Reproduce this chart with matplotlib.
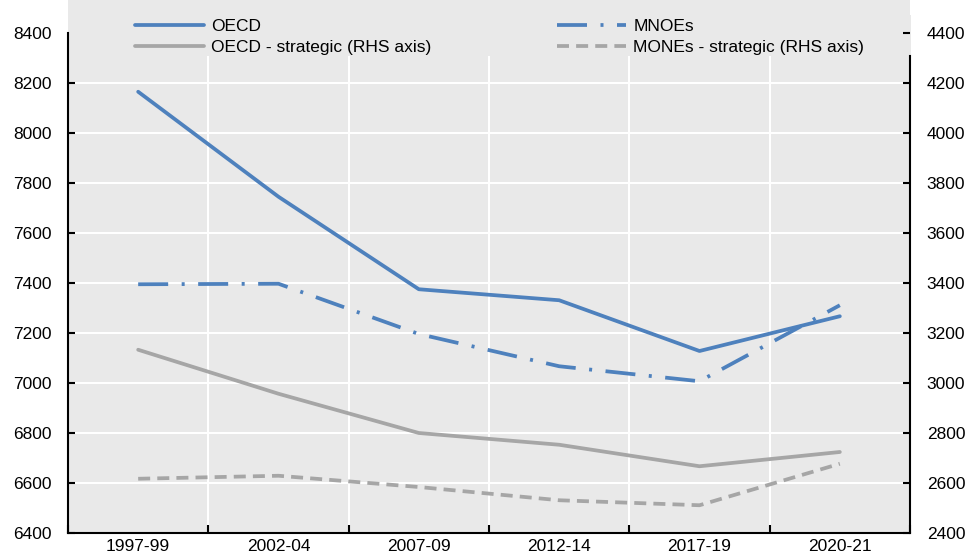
import matplotlib
matplotlib.use("Agg")
import matplotlib.pyplot as plt
from matplotlib.patches import Rectangle
from matplotlib.ticker import FixedLocator

plt.rcParams['font.family'] = ['Liberation Sans', 'DejaVu Sans']

categories = ["1997-99", "2002-04", "2007-09", "2012-14", "2017-19", "2020-21"]
oecd = [8165, 7745, 7375, 7331, 7128, 7267]
mnoes = [7395, 7397, 7196, 7067, 7007, 7311]
oecd_strategic = [3133, 2957, 2800, 2753, 2667, 2724]
mones_strategic = [2617, 2629, 2584, 2531, 2511, 2677]
left_ticks = [6400, 6600, 6800, 7000, 7200, 7400, 7600, 7800, 8000, 8200, 8400]
right_ticks = [2400, 2600, 2800, 3000, 3200, 3400, 3600, 3800, 4000, 4200, 4400]

W, H = 966, 557
BG = "#e9e9e9"
BLUE = "#4e81bd"
GREY = "#a6a6a6"
FS = 12.5

fig = plt.figure(figsize=(W / 100, H / 100), dpi=100)
fig.patch.set_facecolor("white")

# grey panel behind everything (includes legend strip)
fig.patches.append(Rectangle((69 / W, 1 - 533 / H), (911 - 69) / W, (533 - 15) / H,
                             transform=fig.transFigure, facecolor=BG, edgecolor="none", zorder=-1))

ax = fig.add_axes([68 / W, 1 - 533 / H, (910 - 68) / W, (533 - 33) / H])
ax.set_facecolor(BG)
x = list(range(len(categories)))
ax.set_xlim(-0.5, len(categories) - 0.5)
ax.set_ylim(6400, 8400)
ax.yaxis.set_major_locator(FixedLocator(left_ticks))
ax.set_xticks(x)
ax.set_xticklabels(categories, fontsize=FS)
ax.set_xticks([i + 0.5 for i in range(-1, len(categories))], minor=True)
ax.tick_params(axis='x', which='major', length=0, pad=4)
ax.tick_params(axis='x', which='minor', direction='in', length=6, width=1.5)
ax.tick_params(axis='y', direction='in', length=5, width=1.5, labelsize=FS, pad=12)
ax.set_axisbelow(True)
ax.grid(axis='y', which='major', color='white', lw=1.5)
ax.grid(axis='x', which='minor', color='white', lw=1.5)
for s in ['top', 'right']:
    ax.spines[s].set_visible(False)
for s in ['left', 'bottom']:
    ax.spines[s].set_linewidth(1.5)
    ax.spines[s].set_zorder(3)

# cover gridlines at the top strip (legend area)
ax.add_patch(Rectangle((0, (533 - 56) / 500), 1.0, 1, transform=ax.transAxes,
                       facecolor=BG, edgecolor='none', zorder=1, clip_on=False))

lw = 2.7
l1, = ax.plot(x, oecd, color=BLUE, lw=lw, zorder=4, solid_capstyle='round')
l2, = ax.plot(x, mnoes, color=BLUE, lw=lw, zorder=4, dashes=(8.0, 3.6, 0.8, 3.6))

ax2 = ax.twinx()
ax2.set_ylim(2400, 4400)
ax2.yaxis.set_major_locator(FixedLocator(right_ticks))
ax2.tick_params(axis='y', direction='in', length=5, width=1.5, labelsize=FS, pad=12)
for s in ['top', 'left', 'bottom']:
    ax2.spines[s].set_visible(False)
ax2.spines['right'].set_linewidth(1.5)
ax2.spines['right'].set_bounds(2400, 4400 - (56 - 33) * 4)
l3, = ax2.plot(x, oecd_strategic, color=GREY, lw=lw, zorder=4, solid_capstyle='round')
l4, = ax2.plot(x, mones_strategic, color=GREY, lw=lw, zorder=4, dashes=(3.2, 1.9))

common = dict(loc='upper left', frameon=False, fontsize=FS, handlelength=4.0,
              handletextpad=0.4, labelspacing=0.32, borderpad=0, borderaxespad=0)
leg1 = fig.legend([l1, l3], ["OECD", "OECD - strategic (RHS axis)"],
                  bbox_to_anchor=(135 / W, 1 - 19 / H), **common)
leg2 = fig.legend([l2, l4], ["MNOEs", "MONEs - strategic (RHS axis)"],
                  bbox_to_anchor=(557 / W, 1 - 19 / H), **common)

fig.savefig("out.png", dpi=100, facecolor="white")
